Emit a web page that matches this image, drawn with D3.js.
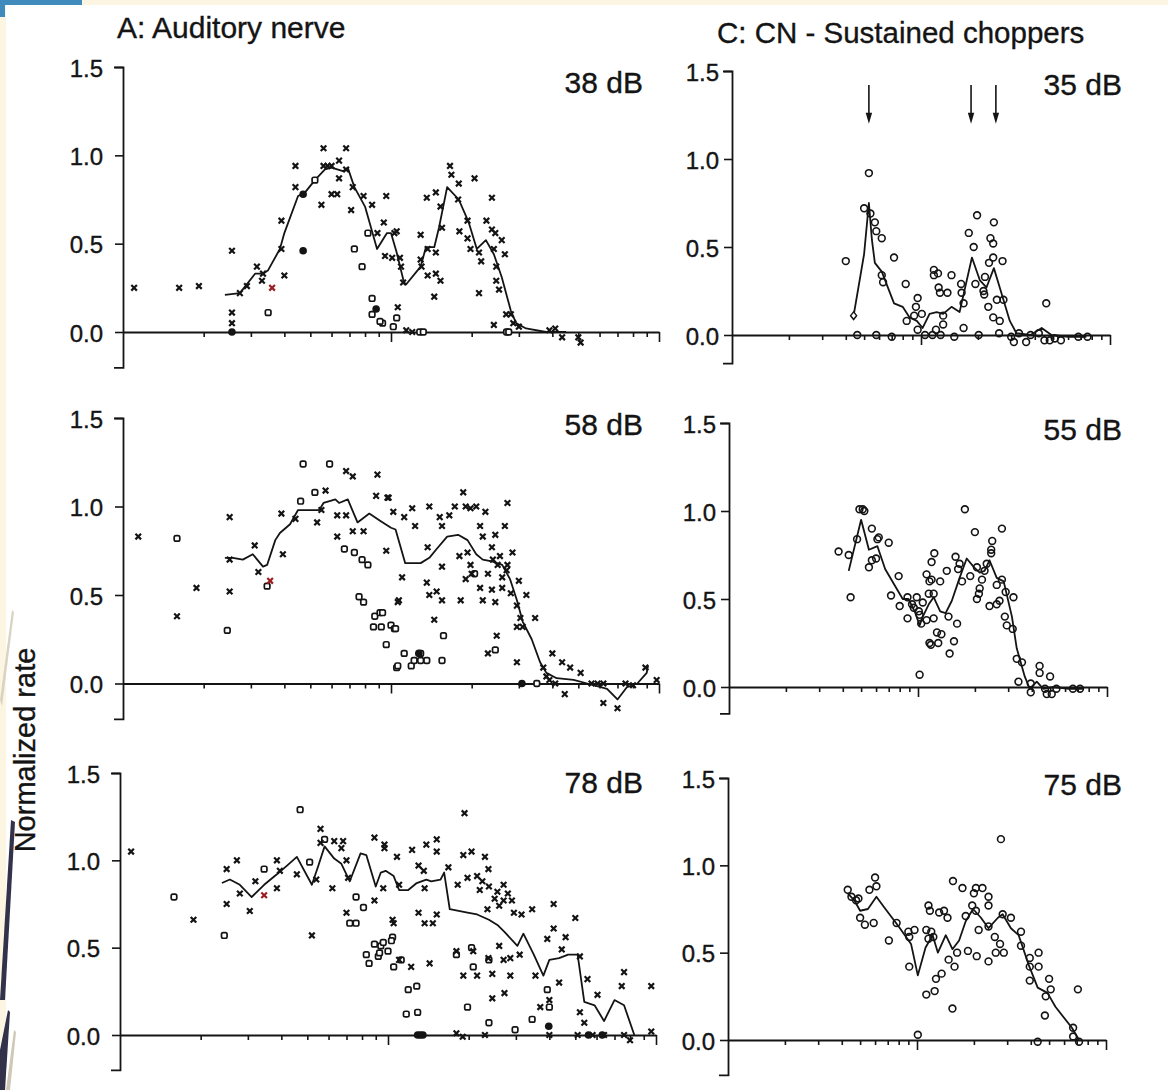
<!DOCTYPE html>
<html><head><meta charset="utf-8">
<script src="https://cdn.jsdelivr.net/npm/d3@7"></script>
<style>
body{margin:0;background:#fff}
svg{display:block}
text{font-family:"Liberation Sans",Arial,Helvetica,sans-serif;fill:#141414;stroke:#141414;stroke-width:0.35px}
</style></head>
<body><svg id="c" width="1168" height="1090"></svg>
<script>
// ---------- tick values ----------
const yTickValues = [0, 0.5, 1.0, 1.5];
const xMinorTicks = [0.2,0.3,0.4,0.5,0.6,0.7,0.8,0.9,2,3,4,5,6,7,8,9];
const xMajorTicks = [1, 10];
const freqDomain = [0.1, 10];

const titleA = "A: Auditory nerve";
const titleC = "C: CN - Sustained choppers";
const yTitle = "Normalized rate";
const levelsA = ["38 dB", "58 dB", "78 dB"];
const levelsC = ["35 dB", "55 dB", "75 dB"];

// ---------- data: [frequency kHz, normalized rate] ----------
// Panel A, 38 dB
const A38_cross = [[0.11,0.25],[0.162,0.25],[0.192,0.26],[0.255,0.46],[0.255,0.11],[0.255,0.05],[0.273,0.22],[0.29,0.26],[0.316,0.37],[0.333,0.33],[0.33,0.29],[0.39,0.47],[0.39,0.63],[0.40,0.32],[0.44,0.82],[0.44,0.94],[0.55,0.72],[0.56,0.94],[0.56,1.04],[0.58,0.94],[0.60,0.94],[0.60,0.78],[0.63,0.78],[0.64,0.87],[0.64,0.97],[0.68,1.04],[0.68,0.92],[0.71,0.69],[0.72,0.82],[0.79,0.77],[0.85,0.72],[0.89,0.56],[0.94,0.62],[0.96,0.77],[0.95,0.43],[1.03,0.56],[1.06,0.14],[1.05,0.57],[1.01,0.42],[1.08,0.42],[1.09,0.37],[1.11,0.28],[1.29,0.55],[1.29,0.41],[1.30,0.37],[1.36,0.76],[1.47,0.79],[1.37,0.32],[1.47,0.33],[1.53,0.29],[1.45,0.20],[1.37,0.47],[1.53,0.71],[1.55,0.59],[1.47,0.45],[1.66,0.94],[1.68,0.89],[1.79,0.84],[2.05,0.87],[1.78,0.75],[1.93,0.63],[1.80,0.57],[1.93,0.53],[1.98,0.47],[2.13,0.45],[2.17,0.40],[2.13,0.22],[2.38,0.76],[2.27,0.63],[2.38,0.58],[2.45,0.56],[2.42,0.47],[2.59,0.52],[2.66,0.44],[2.47,0.37],[2.47,0.29],[2.53,0.24],[2.42,0.04],[2.69,0.10],[2.80,0.10],[2.86,0.05],[3.0,0.03],[3.9,0.01],[4.1,0.02],[4.35,-0.03],[5.1,-0.06],[5.0,-0.03],[1.14,0.01],[1.20,0.0]];
const A38_open = [[0.348,0.11],[0.52,0.86],[0.73,0.47],[0.78,0.37],[0.82,0.56],[0.85,0.19],[0.85,0.10],[0.93,0.05],[1.02,0.03],[1.05,0.08],[0.91,0.06],[1.28,0.0],[1.32,0.0],[2.7,0.0],[2.75,0.0]];
const A38_filled = [[0.255,0.0],[0.47,0.46],[0.47,0.78],[0.88,0.13]];
const A38_red = [[0.36,0.25]];
const A38_mean = [[0.24,0.21],[0.273,0.22],[0.311,0.33],[0.333,0.33],[0.348,0.35],[0.385,0.47],[0.40,0.56],[0.45,0.77],[0.478,0.79],[0.52,0.86],[0.567,0.92],[0.60,0.93],[0.662,0.91],[0.69,0.93],[0.73,0.82],[0.80,0.71],[0.887,0.47],[0.966,0.56],[1.0,0.56],[1.05,0.45],[1.118,0.28],[1.14,0.27],[1.29,0.37],[1.35,0.48],[1.45,0.48],[1.51,0.59],[1.62,0.82],[1.79,0.75],[1.95,0.62],[2.09,0.47],[2.26,0.52],[2.42,0.44],[2.59,0.31],[2.80,0.12],[2.93,0.05],[3.19,0.02],[3.79,0.0],[4.5,0.0]];

// Panel A, 58 dB
const A58_cross = [[0.114,0.83],[0.159,0.38],[0.188,0.54],[0.25,0.94],[0.25,0.70],[0.25,0.52],[0.31,0.78],[0.32,0.63],[0.39,0.96],[0.395,0.73],[0.44,0.93],[0.53,0.91],[0.55,0.98],[0.57,1.09],[0.63,0.83],[0.68,1.20],[0.72,1.17],[0.63,0.95],[0.68,0.95],[0.72,0.86],[0.79,0.86],[0.89,1.18],[0.88,1.06],[0.97,1.05],[0.96,0.75],[1.02,0.97],[1.06,0.46],[0.98,1.05],[1.39,1.0],[1.52,0.94],[1.65,0.95],[1.73,1.0],[1.86,1.08],[1.90,1.0],[1.98,0.99],[2.08,1.0],[2.25,0.97],[2.72,1.02],[1.23,0.89],[1.37,0.77],[1.55,0.89],[1.55,0.66],[1.80,0.72],[1.93,0.74],[1.98,0.67],[2.15,0.89],[2.20,0.83],[2.45,0.84],[2.66,0.89],[2.84,0.74],[2.38,0.77],[2.5,0.67],[2.72,0.67],[1.10,0.60],[1.36,0.57],[1.39,0.50],[1.48,0.52],[1.55,0.47],[1.82,0.47],[1.90,0.59],[2.0,0.62],[2.15,0.54],[2.20,0.47],[2.45,0.46],[2.38,0.53],[2.6,0.54],[2.8,0.51],[2.95,0.44],[2.95,0.32],[3.1,0.32],[3.45,0.37],[3.04,0.37],[1.07,0.47],[1.45,0.36],[2.48,0.27],[2.95,0.12],[2.3,0.17],[4.0,0.17],[4.35,0.12],[4.66,0.09],[5.1,0.06],[3.7,0.09],[4.45,-0.06],[6.2,-0.11],[7.0,-0.14],[8.9,0.09],[9.8,0.02],[3.9,0.02],[4.1,0.0],[3.8,0.04],[5.6,0.0],[5.9,0.0],[6.2,0.0],[7.5,0.0],[8.0,-0.01],[2.6,0.60],[2.7,0.64],[3.0,0.58],[3.2,0.50],[2.3,0.62],[1.12,0.94],[1.2,0.99],[2.4,0.70],[2.55,0.72]];
const A58_open = [[0.159,0.82],[0.245,0.30],[0.345,0.55],[0.47,1.24],[0.59,1.24],[0.52,1.08],[0.46,1.03],[0.67,0.76],[0.73,0.74],[0.78,0.70],[0.82,0.67],[0.76,0.49],[0.79,0.46],[0.87,0.38],[0.91,0.40],[0.86,0.32],[0.92,0.32],[1.0,0.33],[1.03,0.31],[0.96,0.22],[1.05,0.09],[0.93,0.40],[1.04,0.31],[1.12,0.17],[1.06,0.10],[1.19,0.10],[1.22,0.13],[1.29,0.17],[1.29,0.13],[1.36,0.13],[1.55,0.13],[1.57,0.27],[2.05,0.62],[2.45,0.19],[3.5,0.0]];
const A58_filled = [[3.08,0.0],[1.27,0.17]];
const A58_red = [[0.354,0.58]];
const A58_mean = [[0.24,0.71],[0.257,0.71],[0.28,0.70],[0.305,0.73],[0.333,0.66],[0.345,0.67],[0.37,0.81],[0.385,0.85],[0.42,0.90],[0.45,0.98],[0.49,0.98],[0.54,0.98],[0.56,1.02],[0.59,1.03],[0.62,1.04],[0.64,1.02],[0.69,1.04],[0.75,0.91],[0.83,0.96],[0.91,0.92],[1.0,0.88],[1.04,0.87],[1.13,0.68],[1.29,0.68],[1.39,0.71],[1.48,0.76],[1.62,0.83],[1.78,0.84],[1.93,0.81],[2.08,0.73],[2.2,0.70],[2.38,0.69],[2.6,0.67],[2.78,0.59],[2.95,0.47],[3.1,0.35],[3.35,0.25],[3.6,0.12],[3.8,0.06],[4.15,0.03],[4.8,0.02],[5.4,0.0],[6.4,-0.03],[7.0,-0.09],[7.6,-0.02],[8.3,0.0],[9.0,0.06],[9.1,0.10]];

// Panel A, 78 dB
const A78_cross = [[0.11,1.05],[0.188,0.66],[0.25,0.95],[0.25,0.75],[0.273,1.0],[0.28,0.81],[0.305,0.71],[0.32,0.88],[0.385,0.84],[0.385,1.0],[0.395,0.94],[0.457,0.92],[0.52,0.57],[0.54,0.89],[0.56,1.18],[0.56,1.10],[0.62,0.84],[0.63,1.11],[0.68,1.11],[0.67,1.07],[0.70,1.0],[0.71,0.90],[0.70,0.70],[0.89,1.13],[0.89,0.77],[0.97,1.07],[0.96,0.84],[1.05,0.64],[0.97,1.09],[1.08,1.02],[1.23,1.06],[1.39,1.09],[1.52,1.12],[1.52,1.05],[1.30,0.97],[1.36,0.94],[1.10,0.86],[1.37,0.84],[1.68,0.96],[1.91,1.03],[2.05,1.05],[2.30,1.02],[2.37,0.95],[1.98,0.90],[2.15,0.91],[1.82,0.86],[2.20,0.83],[2.38,0.85],[2.56,0.82],[2.70,0.86],[2.80,0.81],[2.70,0.77],[2.35,0.72],[2.95,0.70],[3.15,0.69],[3.45,0.72],[4.15,0.75],[5.0,0.67],[1.30,0.70],[1.52,0.69],[1.37,0.64],[1.47,0.64],[1.04,0.66],[4.15,0.61],[3.93,0.55],[4.6,0.56],[4.45,0.49],[5.2,0.45],[1.80,0.48],[2.08,0.48],[2.37,0.44],[2.70,0.43],[2.86,0.44],[3.10,0.46],[2.60,0.51],[1.10,0.43],[1.22,0.39],[1.43,0.41],[1.91,0.34],[2.15,0.34],[2.45,0.35],[2.86,0.34],[3.55,0.34],[4.35,0.30],[4.0,0.20],[2.45,0.21],[2.72,0.24],[5.55,0.32],[6.05,0.23],[5.2,0.13],[5.4,0.07],[7.45,0.28],[7.6,0.36],[9.6,0.28],[3.7,0.16],[1.93,1.27],[1.80,0.01],[1.9,-0.01],[2.3,0.0],[4.0,0.0],[5.1,0.0],[5.8,0.0],[6.4,0.0],[7.6,0.0],[8.0,-0.03],[9.6,0.02],[2.25,0.88],[2.5,0.78],[2.6,0.74],[2.9,0.77]];
const A78_open = [[0.159,0.79],[0.245,0.57],[0.345,0.95],[0.47,1.29],[0.51,0.99],[0.58,1.12],[0.76,0.79],[0.81,0.73],[0.72,0.64],[0.76,0.64],[0.83,0.46],[0.85,0.41],[0.89,0.52],[0.92,0.45],[0.94,0.51],[1.0,0.48],[1.04,0.56],[1.05,0.39],[0.96,0.53],[1.03,0.54],[0.93,0.47],[1.12,0.43],[1.19,0.26],[1.28,0.28],[1.17,0.12],[1.29,0.13],[2.05,0.50],[2.08,0.39],[1.98,0.16],[2.38,0.07],[2.98,0.03],[3.45,0.09],[3.93,0.26],[4.0,0.16],[1.80,0.46],[2.38,0.43]];
const A78_filled = [[3.98,0.05],[1.29,0.0],[1.32,0.0],[1.35,0.0],[5.6,0.0],[6.3,0.0]];
const A78_red = [[0.345,0.80]];
const A78_mean = [[0.24,0.87],[0.257,0.89],[0.28,0.86],[0.31,0.79],[0.345,0.86],[0.385,0.92],[0.42,0.97],[0.457,1.02],[0.52,0.86],[0.55,0.97],[0.58,1.08],[0.63,1.01],[0.67,0.98],[0.72,0.88],[0.79,1.04],[0.83,1.03],[0.90,0.85],[0.94,0.93],[0.98,0.94],[1.05,0.91],[1.10,0.83],[1.19,0.83],[1.28,0.87],[1.39,0.89],[1.45,0.88],[1.57,0.89],[1.62,0.93],[1.70,0.72],[1.98,0.70],[2.15,0.69],[2.38,0.66],[2.56,0.63],[2.72,0.59],[3.04,0.51],[3.2,0.58],[3.5,0.46],[3.8,0.34],[4.0,0.43],[4.35,0.44],[4.7,0.46],[5.1,0.46],[5.4,0.19],[5.9,0.17],[6.4,0.08],[7.0,0.20],[7.6,0.17],[8.3,0.0]];

// Panel C, 35 dB
const C35_open = [[0.40,0.42],[0.46,0.0],[0.50,0.72],[0.53,0.92],[0.54,0.69],[0.57,0.64],[0.58,0.59],[0.62,0.55],[0.62,0.34],[0.63,0.30],[0.58,0.0],[0.72,0.44],[0.83,0.29],[0.84,0.08],[0.94,0.16],[0.96,0.21],[0.92,0.11],[1.01,0.12],[0.96,0.03],[1.17,0.37],[1.23,0.35],[1.17,0.34],[1.24,0.27],[1.26,0.24],[1.38,0.24],[1.45,0.34],[1.20,0.03],[1.27,0.0],[1.31,0.11],[1.31,0.06],[1.63,0.29],[1.64,0.24],[1.68,0.18],[1.68,0.04],[1.79,0.58],[1.90,0.50],[1.94,0.29],[1.98,0.68],[2.18,0.33],[2.14,0.25],[2.16,0.23],[2.33,0.55],[2.41,0.52],[2.43,0.64],[2.41,0.44],[2.29,0.41],[2.70,0.42],[2.27,0.16],[2.41,0.10],[2.52,0.20],[2.73,0.20],[2.61,0.08],[2.59,0.01],[2.02,0.0],[3.0,-0.01],[3.1,-0.04],[3.3,0.01],[3.6,-0.04],[4.6,0.18],[4.5,-0.03],[5.1,-0.02],[6.8,-0.01],[7.6,-0.01],[0.70,-0.01],[1.05,0.0],[1.15,0.0],[1.5,-0.01],[3.8,0.0],[4.2,0.01],[5.5,-0.03],[4.8,-0.03]];
const C35_mean = [[0.44,0.11],[0.50,0.46],[0.53,0.75],[0.55,0.54],[0.57,0.41],[0.62,0.36],[0.72,0.18],[0.80,0.16],[0.87,0.10],[0.95,0.08],[1.02,0.04],[1.11,0.12],[1.21,0.13],[1.31,0.12],[1.45,0.16],[1.60,0.13],[1.86,0.44],[2.05,0.31],[2.22,0.27],[2.43,0.38],[2.61,0.27],[2.95,0.08],[3.2,0.01],[3.8,0.0],[4.35,0.04],[4.9,0.0],[6.0,-0.01],[7.5,-0.01]];
const C35_arrows = [0.53, 1.84, 2.49];

// Panel C, 55 dB
const C55_open = [[0.38,0.77],[0.43,0.75],[0.44,0.51],[0.476,0.84],[0.49,1.01],[0.51,1.01],[0.52,1.0],[0.57,0.90],[0.55,0.68],[0.57,0.72],[0.60,0.73],[0.61,0.84],[0.62,0.85],[0.70,0.82],[0.79,0.63],[0.72,0.52],[0.80,0.46],[0.88,0.51],[0.88,0.39],[0.93,0.47],[0.985,0.51],[0.95,0.45],[1.01,0.43],[1.06,0.48],[1.02,0.41],[1.04,0.36],[1.02,0.07],[1.11,0.38],[1.21,0.39],[1.11,0.64],[1.15,0.60],[1.18,0.61],[1.18,0.71],[1.22,0.76],[1.14,0.53],[1.21,0.53],[1.15,0.25],[1.17,0.24],[1.28,0.25],[1.26,0.31],[1.33,0.30],[1.31,0.60],[1.42,0.66],[1.45,0.40],[1.47,0.19],[1.55,0.26],[1.61,0.36],[1.58,0.74],[1.63,0.67],[1.71,0.60],[1.77,1.01],[1.66,0.70],[1.89,0.63],[2.0,0.88],[2.05,0.68],[2.05,0.50],[2.12,0.56],[2.10,0.53],[2.18,0.61],[2.25,0.66],[2.31,0.70],[2.39,0.46],[2.47,0.83],[2.44,0.76],[2.44,0.78],[2.61,0.47],[2.70,0.49],[2.61,0.58],[2.78,0.90],[2.78,0.61],[2.91,0.54],[2.88,0.40],[2.95,0.35],[3.2,0.51],[3.17,0.33],[3.33,0.16],[3.4,0.03],[3.55,0.14],[3.95,-0.03],[3.95,0.02],[4.4,0.12],[4.4,0.08],[4.7,-0.01],[5.0,0.06],[5.1,-0.04],[4.8,-0.04],[5.4,-0.01],[6.6,-0.01],[7.2,-0.01]];
const C55_mean = [[0.43,0.66],[0.50,0.95],[0.55,0.78],[0.61,0.80],[0.67,0.67],[0.83,0.50],[0.89,0.50],[0.96,0.43],[1.02,0.35],[1.06,0.40],[1.14,0.47],[1.21,0.51],[1.31,0.43],[1.40,0.42],[1.51,0.49],[1.66,0.62],[1.81,0.73],[1.98,0.68],[2.12,0.65],[2.25,0.66],[2.39,0.72],[2.61,0.62],[2.84,0.60],[3.14,0.40],[3.33,0.22],[3.67,0.06],[3.9,-0.01],[4.25,0.03],[4.6,-0.01],[5.2,0.0],[6.3,-0.01],[7.5,-0.01]];

// Panel C, 75 dB
const C75_open = [[0.43,0.86],[0.45,0.82],[0.476,0.80],[0.49,0.81],[0.50,0.70],[0.53,0.66],[0.56,0.86],[0.59,0.67],[0.60,0.93],[0.61,0.88],[0.71,0.57],[0.78,0.67],[0.90,0.62],[0.97,0.63],[0.91,0.59],[0.91,0.42],[1.01,0.03],[1.12,0.26],[1.15,0.77],[1.17,0.74],[1.12,0.63],[1.15,0.58],[1.19,0.62],[1.22,0.59],[1.24,0.28],[1.26,0.35],[1.31,0.73],[1.35,0.38],[1.39,0.74],[1.45,0.70],[1.47,0.46],[1.55,0.91],[1.58,0.42],[1.54,0.18],[1.63,0.50],[1.74,0.87],[1.86,0.51],[1.81,0.71],[1.96,0.77],[2.0,0.84],[2.05,0.87],[2.05,0.74],[2.07,0.48],[2.12,0.63],[2.22,0.87],[2.39,0.82],[2.39,0.77],[2.39,0.65],[2.39,0.45],[2.58,0.59],[2.61,0.50],[2.75,0.55],[2.78,1.15],[2.84,0.72],[2.88,0.50],[3.14,0.70],[3.55,0.62],[3.55,0.54],[3.95,0.47],[3.95,0.42],[3.95,0.34],[4.4,0.50],[4.4,0.42],[4.8,0.25],[4.75,0.14],[5.0,0.35],[5.1,0.29],[4.35,-0.01],[6.7,0.07],[6.7,0.02],[7.1,0.29],[7.2,-0.01]];
const C75_mean = [[0.43,0.84],[0.466,0.80],[0.50,0.74],[0.55,0.75],[0.61,0.82],[0.67,0.76],[0.80,0.65],[0.93,0.55],[1.01,0.37],[1.11,0.53],[1.21,0.60],[1.29,0.50],[1.42,0.60],[1.54,0.52],[1.67,0.57],[1.81,0.68],[1.98,0.75],[2.18,0.70],[2.39,0.64],[2.68,0.70],[2.84,0.72],[3.14,0.64],[3.45,0.60],[3.9,0.43],[4.35,0.30],[4.9,0.27],[5.4,0.19],[6.6,0.07],[7.2,0.0]];

// ---------- layout ----------
const panels = [
  {col:"A", level:levelsA[0], xr:[123,659], y0:332, y15:67,  yb:-0.2, cross:A38_cross, open:A38_open, filled:A38_filled, red:A38_red, mean:A38_mean, lblY:93},
  {col:"A", level:levelsA[1], xr:[123,659], y0:683.5, y15:418, yb:-0.2, cross:A58_cross, open:A58_open, filled:A58_filled, red:A58_red, mean:A58_mean, lblY:435},
  {col:"A", level:levelsA[2], xr:[120,656], y0:1035, y15:773, yb:-0.2, cross:A78_cross, open:A78_open, filled:A78_filled, red:A78_red, mean:A78_mean, lblY:793},
  {col:"C", level:levelsC[0], xr:[732,1110], y0:335, y15:71, yb:-0.16, circ:C35_open, mean:C35_mean, arrows:C35_arrows, startMark:true, lblY:95},
  {col:"C", level:levelsC[1], xr:[729,1107], y0:687, y15:423, yb:-0.15, circ:C55_open, mean:C55_mean, lblY:440},
  {col:"C", level:levelsC[2], xr:[728,1106], y0:1040, y15:778, yb:-0.2, circ:C75_open, mean:C75_mean, lblY:795}
];

const svg = d3.select("#c");
const ink = "#141414";

// page decoration (scan / slide margins)
svg.append("rect").attr("x",0).attr("y",0).attr("width",1168).attr("height",1090).attr("fill","#ffffff");
svg.append("rect").attr("x",0).attr("y",0).attr("width",1168).attr("height",5).attr("fill","#fbf5e1");
svg.append("rect").attr("x",0).attr("y",0).attr("width",6).attr("height",1090).attr("fill","#fbf5e1");
svg.append("rect").attr("x",0).attr("y",0).attr("width",82).attr("height",5).attr("fill","#3f8cbc");
svg.append("rect").attr("x",0).attr("y",0).attr("width",5).attr("height",17).attr("fill","#3f8cbc");
svg.append("path").attr("d","M0,700 L12,610 L14,612 L2,706 Z").attr("fill","#d9d3c4");
svg.append("path").attr("d","M0,1000 L11,820 L15,822 L5,1000 Z").attr("fill","#33324b");
svg.append("path").attr("d","M0,1090 L0,1050 L8,1010 L10,1012 L5,1090 Z").attr("fill","#33324b");
svg.append("path").attr("d","M6,1090 L14,1030 L16,1032 L10,1090 Z").attr("fill","#cfc8b6");

const xMark = "M-2.8,-2.8L2.8,2.8M-2.8,2.8L2.8,-2.8";

panels.forEach(p => {
  const k = (p.y0 - p.y15) / 1.5;
  const x = d3.scaleLog().domain(freqDomain).range(p.xr);
  const y = d3.scaleLinear().domain([p.yb, 1.5]).range([p.y0 - p.yb * k, p.y15]);
  const g = svg.append("g");

  // y axis (bracket style)
  const ya = g.append("g").attr("transform", `translate(${p.xr[0]},0)`)
    .call(d3.axisLeft(y).tickValues(yTickValues).tickSize(8).tickSizeOuter(9)
      .tickPadding(p.col === "A" ? 12 : 5).tickFormat(d3.format(".1f")));
  ya.select(".domain").attr("stroke", ink).attr("stroke-width", 1.8);
  ya.selectAll(".tick line").attr("stroke", ink).attr("stroke-width", 1.6);
  ya.selectAll(".tick text").attr("font-size", 24).attr("dy", "0.38em").attr("fill", ink)
    .attr("font-family", '"Liberation Sans",Arial,Helvetica,sans-serif');

  // x axis at rate 0
  const xa = g.append("g").attr("transform", `translate(0,${y(0)})`)
    .call(d3.axisBottom(x).tickValues(xMinorTicks.concat(xMajorTicks)).tickSize(5).tickSizeOuter(0).tickFormat(""));
  xa.select(".domain").attr("stroke", ink).attr("stroke-width", 1.9);
  xa.selectAll(".tick line").attr("stroke", ink).attr("stroke-width", 1.6)
    .attr("y2", d => xMajorTicks.includes(d) ? 10 : 5);

  // mean line
  g.append("path").datum(p.mean)
    .attr("d", d3.line().x(d => x(d[0])).y(d => y(d[1])))
    .attr("fill", "none").attr("stroke", ink).attr("stroke-width", 1.8).attr("stroke-linejoin", "round");

  if (p.col === "A") {
    g.selectAll(null).data(p.open).join("rect")
      .attr("x", d => x(d[0]) - 2.8).attr("y", d => y(d[1]) - 2.8)
      .attr("width", 5.6).attr("height", 5.6).attr("rx", 1.7)
      .attr("fill", "#fff").attr("stroke", ink).attr("stroke-width", 1.7);
    g.selectAll(null).data(p.cross).join("path")
      .attr("transform", d => `translate(${x(d[0])},${y(d[1])})`)
      .attr("d", xMark).attr("fill", "none").attr("stroke", ink).attr("stroke-width", 2.2);
    g.selectAll(null).data(p.red).join("path")
      .attr("transform", d => `translate(${x(d[0])},${y(d[1])})`)
      .attr("d", xMark).attr("fill", "none").attr("stroke", "#9c1c22").attr("stroke-width", 2.2);
    g.selectAll(null).data(p.filled).join("circle")
      .attr("cx", d => x(d[0])).attr("cy", d => y(d[1])).attr("r", 3.8).attr("fill", ink);
  } else {
    g.selectAll(null).data(p.circ).join("circle")
      .attr("cx", d => x(d[0])).attr("cy", d => y(d[1])).attr("r", 3.4)
      .attr("fill", "none").attr("stroke", ink).attr("stroke-width", 1.6);
    if (p.startMark) {
      g.append("path").datum(p.mean[0])
        .attr("transform", d => `translate(${x(d[0])},${y(d[1])})`)
        .attr("d", "M0,-3.8L3,0L0,3.8L-3,0Z").attr("fill", "#fff").attr("stroke", ink).attr("stroke-width", 1.5);
    }
  }

  if (p.arrows) {
    p.arrows.forEach(f => {
      const ax = x(f), yt = y(1.42), yb = y(1.2);
      g.append("line").attr("x1", ax).attr("x2", ax).attr("y1", yt).attr("y2", yb - 4)
        .attr("stroke", ink).attr("stroke-width", 1.6);
      g.append("path").attr("d", `M${ax-3.2},${yb-11}L${ax+3.2},${yb-11}L${ax},${yb}Z`).attr("fill", ink);
    });
  }

  // level label
  g.append("text").attr("x", p.col === "A" ? 643 : 1122).attr("y", p.lblY)
    .attr("text-anchor", "end").attr("font-size", 30).text(p.level);
});

// column titles
svg.append("text").attr("x", 117).attr("y", 38).attr("font-size", 30).text(titleA);
svg.append("text").attr("x", 717).attr("y", 43).attr("font-size", 29.5).text(titleC);
// y axis title
svg.append("text").attr("transform", "translate(35,750) rotate(-90)")
  .attr("text-anchor", "middle").attr("font-size", 29).text(yTitle);
</script>
</body></html>
